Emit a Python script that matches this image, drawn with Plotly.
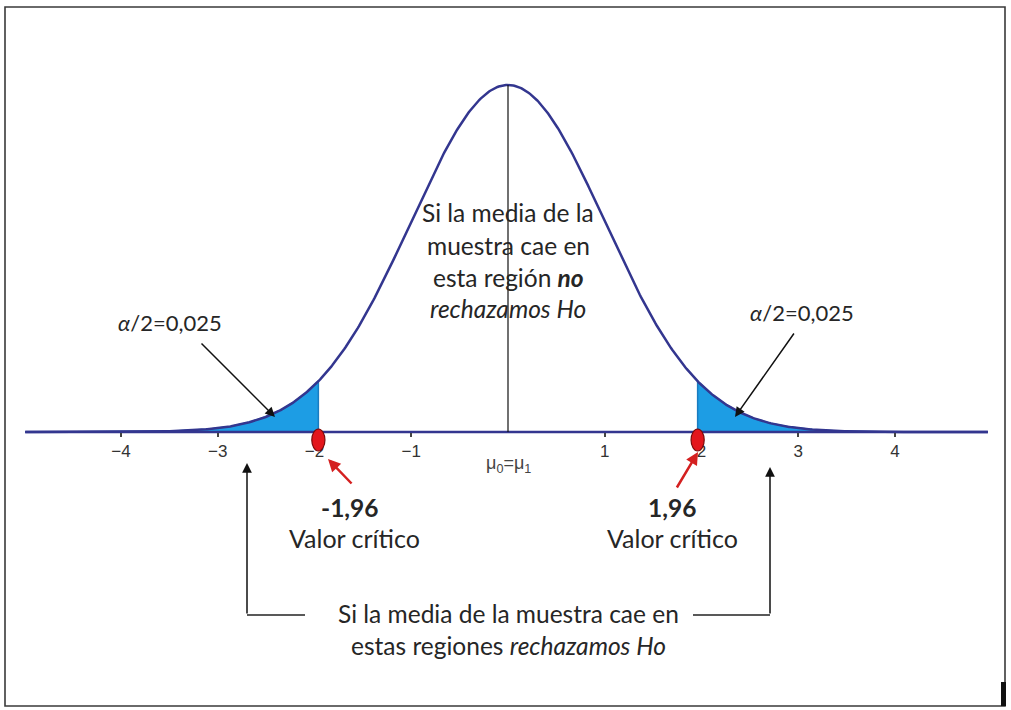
import numpy as np
import plotly.graph_objects as go

# ---------------- data ----------------
mean = 0.0
sd = 1.0
z_crit = [-1.96, 1.96]
crit_labels = ["-1,96", "1,96"]
alpha_half = "0,025"
tick_vals = [-4, -3, -2, -1, 1, 2, 3, 4]
tick_text = ["−4", "−3", "−2", "−1", "1", "2", "3", "4"]
x_min, x_max = -4.99, 4.96


def pdf(x):
    x = np.asarray(x, dtype=float)
    return np.exp(-((x - mean) ** 2) / (2 * sd ** 2)) / (sd * np.sqrt(2 * np.pi))


# --------------- layout helpers (pixel -> data for placing annotations) ---------------
W, H = 1011, 710
X0PX, PXU = 508.0, 96.75
Y0PX, PYU = 432.0, 869.9


def X(px):
    return (px - X0PX) / PXU


def Y(py):
    return (Y0PX - py) / PYU


CURVE = "#33368f"
FILL = "#1d9de4"
TXT = "#262626"
FONT = "Lato"
FS = 24.5

fig = go.Figure()

# tails
xl = np.linspace(x_min, z_crit[0], 200)
fig.add_trace(go.Scatter(
    x=np.concatenate([[x_min], xl, [z_crit[0]]]),
    y=np.concatenate([[0], pdf(xl), [0]]),
    fill="toself", fillcolor=FILL, mode="lines",
    line=dict(color="#1a7cc0", width=1.5), hoverinfo="skip"))
xr = np.linspace(z_crit[1], x_max, 200)
fig.add_trace(go.Scatter(
    x=np.concatenate([[z_crit[1]], xr, [x_max]]),
    y=np.concatenate([[0], pdf(xr), [0]]),
    fill="toself", fillcolor=FILL, mode="lines",
    line=dict(color="#1a7cc0", width=1.5), hoverinfo="skip"))

# curve
xs = np.linspace(x_min, x_max, 800)
fig.add_trace(go.Scatter(x=xs, y=pdf(xs), mode="lines",
                         line=dict(color=CURVE, width=2.5), hoverinfo="skip"))
fig.add_trace(go.Scatter(x=[x_min, x_max], y=[0, 0], mode="lines",
                         line=dict(color=CURVE, width=2.5), hoverinfo="skip"))

# mean line
fig.add_trace(go.Scatter(x=[mean, mean], y=[0, float(pdf(mean))], mode="lines",
                         line=dict(color="#111111", width=1.2), hoverinfo="skip"))

shapes = []
for z in z_crit:
    shapes.append(dict(type="circle", xref="x", yref="y",
                       x0=z - 0.068, x1=z + 0.068, y0=Y(451), y1=Y(429),
                       fillcolor="#e3161c", line=dict(color="#7a0a0a", width=1.2)))
fig.add_trace(go.Scatter(x=z_crit, y=[Y(434)] * 2, mode="markers",
                         marker=dict(symbol="triangle-up", size=7, color="#111111"),
                         hoverinfo="skip"))

shapes.append(dict(type="line", xref="x", yref="y", x0=X(247), x1=X(305), y0=Y(615), y1=Y(615),
                   line=dict(color="#222222", width=1.5)))
shapes.append(dict(type="line", xref="x", yref="y", x0=X(693), x1=X(770), y0=Y(615), y1=Y(615),
                   line=dict(color="#222222", width=1.5)))
shapes.append(dict(type="rect", xref="paper", yref="paper",
                   x0=5 / W, x1=1005 / W, y0=1 - 706 / H, y1=1 - 7 / H,
                   line=dict(color="#3a3a3a", width=1.6)))
shapes.append(dict(type="rect", xref="paper", yref="paper",
                   x0=1001 / W, x1=1006 / W, y0=1 - 706 / H, y1=1 - 682 / H,
                   fillcolor="#111111", line=dict(width=0)))

ann = []


def text(px, py, s, size=FS, family=FONT, color=TXT):
    ann.append(dict(x=X(px), y=Y(py), xref="x", yref="y", text=s, showarrow=False,
                    xanchor="center", yanchor="middle",
                    font=dict(family=family, size=size, color=color)))


def arrow(hx, hy, tx, ty, color="#111111", width=1.5, size=1.3, head=2):
    ann.append(dict(x=X(hx), y=Y(hy), ax=X(tx), ay=Y(ty), xref="x", yref="y",
                    axref="x", ayref="y", text="", showarrow=True,
                    arrowhead=head, arrowsize=size, arrowwidth=width, arrowcolor=color))


# centre text
text(508, 212, "Si la media de la")
text(508, 245, "muestra cae en")
text(508, 277, "esta región <b><i>no</i></b>")
text(508, 308, "<i>rechazamos Ho</i>")

# alpha labels
text(170, 322, f"<i>α</i>/2={alpha_half}", size=22)
text(802, 312, f"<i>α</i>/2={alpha_half}", size=22)
arrow(275, 417, 200, 342)
arrow(735, 417, 795, 332)

# critical values
text(350, 507, f"<b>{crit_labels[0]}</b>", size=FS)
text(354, 538, "Valor crítico", size=25)
text(672, 507, f"<b>{crit_labels[1]}</b>", size=FS)
text(672, 538, "Valor crítico", size=25)
arrow(328, 459, 353, 485, color="#d42020", width=2.5, size=1.0)
arrow(698, 452, 676, 489, color="#d42020", width=2.5, size=1.0)

# mu label
ann.append(dict(x=mean, y=Y(464), xref="x", yref="y", showarrow=False,
                text="μ<sub>0</sub>=μ<sub>1</sub>", xanchor="center", yanchor="middle",
                font=dict(family="Arial", size=18, color="#444444")))

# bottom text and bracket arrows
text(508, 613, "Si la media de la muestra cae en")
text(508, 645, "estas regiones <i>rechazamos Ho</i>")
arrow(247, 463, 247, 615)
arrow(770, 467, 770, 615)

fig.update_layout(
    width=W, height=H,
    margin=dict(l=0, r=0, t=0, b=0),
    paper_bgcolor="white", plot_bgcolor="white",
    showlegend=False,
    shapes=shapes, annotations=ann,
    xaxis=dict(range=[X(0), X(W)], showgrid=False, zeroline=False, showline=False,
               tickvals=tick_vals, ticktext=tick_text, ticks="outside", ticklen=4,
               tickcolor="#444444", tickwidth=1.5,
               tickfont=dict(family="Arial", size=17, color="#333333"),
               anchor="free", position=1 - Y0PX / H, fixedrange=True),
    yaxis=dict(range=[Y(H), Y(0)], visible=False, fixedrange=True),
)

fig.write_html("out.html", config={"displayModeBar": False},
               post_script="document.body.style.margin='0';document.body.style.overflow='hidden';")
